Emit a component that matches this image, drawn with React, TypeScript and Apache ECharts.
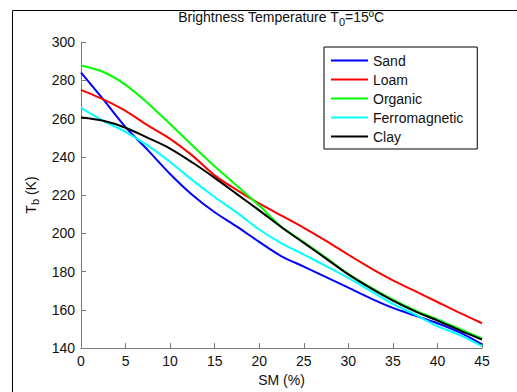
import React, { useEffect, useRef } from "react";
import * as echarts from "echarts";

const smValues = [0, 2.5, 5, 7.5, 10, 12.5, 15, 17.5, 20, 22.5, 25, 27.5, 30, 32.5, 35, 37.5, 40, 42.5, 45];

const sand = [284, 270, 255.5, 243.5, 231, 220, 211, 203.5, 195.5, 188, 182.6, 177.1, 171.6, 166, 161, 157, 153, 148.2, 142];
const loam = [275, 270, 264, 256.4, 249.4, 240.6, 230.3, 222.6, 215.6, 209.2, 202.9, 196.1, 188.8, 181.8, 175.4, 169.8, 164.1, 158.4, 153];
const organic = [287.7, 284.3, 277.6, 268, 257.1, 245.9, 235, 224.8, 214.5, 203.4, 195.4, 187.2, 178.8, 171.7, 165.3, 159.7, 155, 150, 145];
const ferromagnetic = [265.6, 258.8, 253, 245.8, 237.3, 227.8, 219, 210.8, 202, 194.8, 188.9, 182.9, 176.7, 169.9, 163.1, 157.5, 151.5, 146.8, 141];
const clay = [260.5, 258.8, 255.2, 249.9, 244.3, 237, 229, 220.5, 212, 203.2, 195, 186.8, 178.5, 171.3, 164.8, 159.2, 154.4, 149.3, 144.5];

const seriesNames = ["Sand", "Loam", "Organic", "Ferromagnetic", "Clay"];
const seriesColors = ["#0000ff", "#ff0000", "#00ff00", "#00ffff", "#000000"];
const seriesData = [sand, loam, organic, ferromagnetic, clay];

const FONT = "'Liberation Sans', Arial, sans-serif";
const TEXT = "#111";

export default function App() {
  const ref = useRef<HTMLDivElement>(null);
  useEffect(() => {
    if (!ref.current) return;
    const chart = echarts.init(ref.current, null, { renderer: "svg" });
    const subRich = {
      t: { fontSize: 14, lineHeight: 20, fontFamily: FONT, color: TEXT },
      s: { fontSize: 11, lineHeight: 11, verticalAlign: "bottom", fontFamily: FONT, color: TEXT },
    };
    chart.setOption({
      animation: false,
      backgroundColor: "#fff",
      textStyle: { fontFamily: FONT },
      title: {
        text: "{t|Brightness Temperature T}{s|0}{t|=15ºC}",
        left: 281,
        top: 7,
        padding: 0,
        textAlign: "center",
        textStyle: { rich: subRich, fontSize: 14, fontWeight: "normal" },
      },
      grid: { left: 81, right: 35, top: 42, bottom: 38, containLabel: false },
      legend: {
        orient: "vertical",
        left: 324,
        top: 47,
        padding: [4, 14, 3, 7],
        itemGap: 0,
        itemWidth: 37,
        itemHeight: 2,
        icon: "rect",
        backgroundColor: "#fff",
        borderColor: "#000",
        borderWidth: 1,
        z: 10,
        textStyle: { fontSize: 14, lineHeight: 19, color: TEXT, fontFamily: FONT },
        data: seriesNames,
      },
      xAxis: {
        type: "value",
        min: 0,
        max: 45,
        interval: 5,
        name: "SM (%)",
        nameLocation: "middle",
        nameGap: 22,
        nameTextStyle: { fontSize: 14, color: TEXT, fontFamily: FONT },
        axisLine: { lineStyle: { color: "#7a7a7a", width: 1 } },
        axisTick: { inside: true, length: 5, lineStyle: { color: "#7a7a7a" } },
        axisLabel: { fontSize: 14, color: TEXT, margin: 6, fontFamily: FONT },
        splitLine: { show: false },
      },
      yAxis: {
        type: "value",
        min: 140,
        max: 300,
        interval: 20,
        name: "{t|T}{s|b}{t| (K)}",
        nameLocation: "middle",
        nameGap: 40,
        nameTextStyle: { rich: subRich },
        axisLine: { show: true, lineStyle: { color: "#7a7a7a", width: 1 } },
        axisTick: { show: true, inside: true, length: 5, lineStyle: { color: "#7a7a7a" } },
        axisLabel: { fontSize: 14, color: TEXT, margin: 6, fontFamily: FONT },
        splitLine: { show: false },
      },
      graphic: [
        { type: "line", shape: { x1: 12.5, y1: 10.5, x2: 517, y2: 10.5 }, style: { stroke: "#000", lineWidth: 1 }, silent: true },
        { type: "line", shape: { x1: 12.5, y1: 10.5, x2: 12.5, y2: 392 }, style: { stroke: "#000", lineWidth: 1 }, silent: true },
        { type: "rect", shape: { x: 326, y: 49, width: 148, height: 100 }, style: { fill: "#888" }, z: 1, silent: true },
      ],
      series: seriesNames.map((name, i) => ({
        name,
        type: "line",
        data: smValues.map((x, j) => [x, seriesData[i][j]]),
        smooth: 0.3,
        symbol: "none",
        lineStyle: { color: seriesColors[i], width: 2 },
        itemStyle: { color: seriesColors[i] },
        z: 3,
      })),
    });
    return () => chart.dispose();
  }, []);
  return <div ref={ref} style={{ width: 517, height: 392, position: "absolute", left: 0, top: 0 }} />;
}
